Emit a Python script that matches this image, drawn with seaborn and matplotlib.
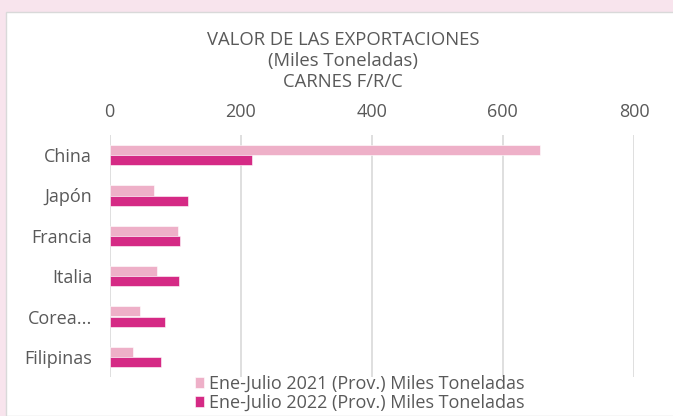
import pandas as pd
import seaborn as sns
import matplotlib.pyplot as plt
from matplotlib.patches import Rectangle

paises = ['China', 'Japón', 'Francia', 'Italia', 'Corea...', 'Filipinas']
valores_2021 = [656, 68, 105, 72, 47, 36]
valores_2022 = [217, 120, 107, 106, 84, 78]
serie_2021 = 'Ene-Julio 2021 (Prov.) Miles Toneladas'
serie_2022 = 'Ene-Julio 2022 (Prov.) Miles Toneladas'
ticks_x = [0, 200, 400, 600, 800]

df = pd.DataFrame({'pais': paises * 2,
                   'valor': valores_2021 + valores_2022,
                   'serie': [serie_2021] * len(paises) + [serie_2022] * len(paises)})

sns.set_style('white')
plt.rcParams['font.family'] = ['Open Sans', 'DejaVu Sans']
gris = '#595959'

fig = plt.figure(figsize=(6.73, 4.16), dpi=100)
fig.patch.set_facecolor('#F8E4ED')
# tarjeta blanca
fig.add_artist(Rectangle((6 / 673, 0), 1, 1 - 12 / 416, transform=fig.transFigure,
                         facecolor='white', edgecolor='#D9D9D9', lw=1, zorder=0))

ax = fig.add_axes([109.5 / 673, 1 - 377 / 416, 524.5 / 673, 242 / 416])
sns.barplot(data=df, y='pais', x='valor', hue='serie', orient='h', ax=ax,
            palette=['#EEB0C8', '#D52A85'], width=0.5, saturation=1,
            edgecolor='white', linewidth=0.4)

ax.set_xlim(0, 800)
ax.set_xticks(ticks_x)
ax.xaxis.tick_top()
ax.tick_params(axis='x', length=0, pad=10, labelsize=13, labelcolor=gris)
ax.tick_params(axis='y', length=0, pad=12.5, labelsize=13, labelcolor=gris)
ax.set_xlabel('')
ax.set_ylabel('')
ax.grid(axis='x', color='#D9D9D9', lw=1.2)
ax.set_axisbelow(True)
for s in ax.spines.values():
    s.set_visible(False)
ax.set_facecolor('none')

fig.text(343 / 673, 1 - 61 / 416, 'VALOR DE LAS EXPORTACIONES\n(Miles Toneladas)\nCARNES F/R/C',
         ha='center', va='center', fontsize=13.3, color=gris, linespacing=1.2)

ax.legend(loc='center', bbox_to_anchor=(360 / 673, 1 - 393.5 / 416), bbox_transform=fig.transFigure,
          frameon=False, fontsize=13, labelcolor=gris, handlelength=0.5, handleheight=0.5,
          handletextpad=0.3, labelspacing=0.05, borderpad=0)

fig.savefig('out.png', dpi=100, facecolor=fig.get_facecolor())
